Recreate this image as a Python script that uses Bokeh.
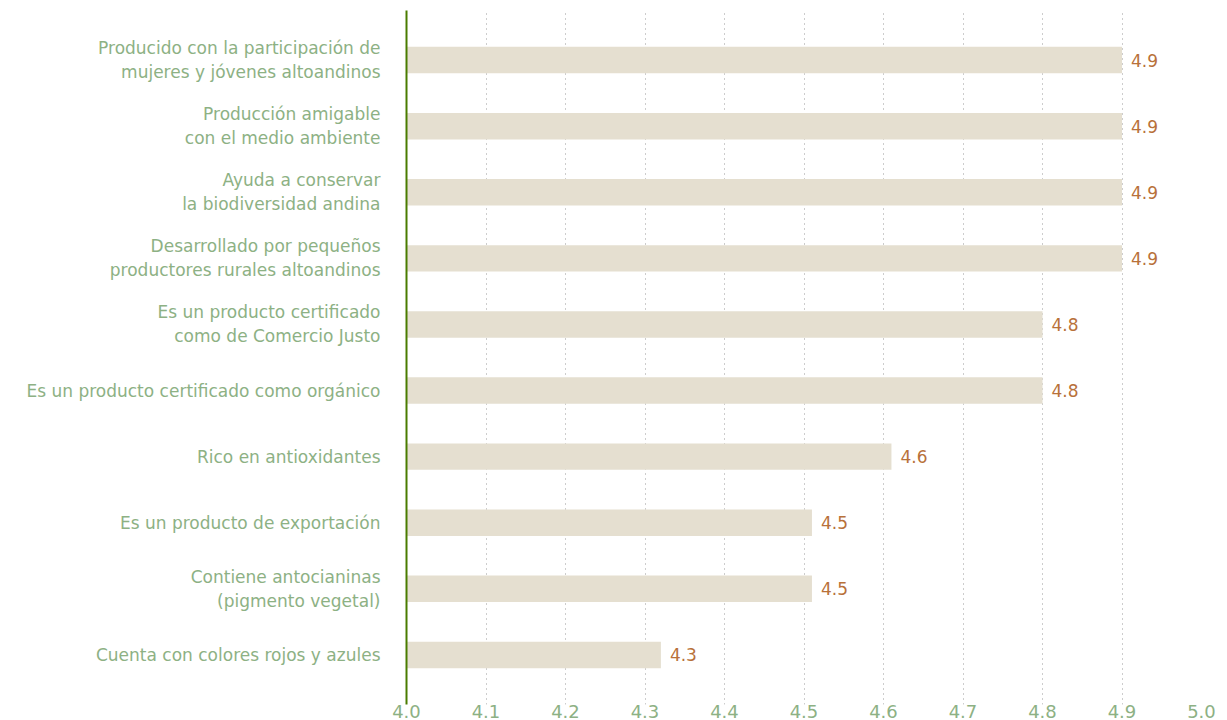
from bokeh.plotting import figure
from bokeh.models import ColumnDataSource, FactorRange, Range1d, FixedTicker, NumeralTickFormatter
from bokeh.core.properties import value
from bokeh.embed import file_html
from bokeh.resources import INLINE

categories = [
    "Producido con la participación de\nmujeres y jóvenes altoandinos",
    "Producción amigable\ncon el medio ambiente",
    "Ayuda a conservar\nla biodiversidad andina",
    "Desarrollado por pequeños\nproductores rurales altoandinos",
    "Es un producto certificado\ncomo de Comercio Justo",
    "Es un producto certificado como orgánico",
    "Rico en antioxidantes",
    "Es un producto de exportación",
    "Contiene antocianinas\n(pigmento vegetal)",
    "Cuenta con colores rojos y azules",
]
scores = [4.90, 4.90, 4.90, 4.90, 4.80, 4.80, 4.61, 4.51, 4.51, 4.32]
x_ticks = [4.0, 4.1, 4.2, 4.3, 4.4, 4.5, 4.6, 4.7, 4.8, 4.9, 5.0]

FONT = "DejaVu Sans"
LABEL_GREEN = "#8db184"
VALUE_ORANGE = "#b8713a"

src = ColumnDataSource(dict(
    cat=categories,
    val=scores,
    label=[f"{v:.1f}" for v in scores],
))

p = figure(
    width=1220, height=720,
    y_range=FactorRange(factors=categories[::-1], range_padding=0.25,
                        range_padding_units="absolute"),
    x_range=Range1d(4.0, 5.0),
    output_backend="svg", toolbar_location=None,
    min_border_left=406, min_border_top=10, min_border_right=19, min_border_bottom=10,
)

p.hbar(y="cat", left=4.0, right="val", height=0.4, color="#e5dfd0", line_color=None, source=src)
p.text(x="val", y="cat", text="label", x_offset=9, text_baseline="middle",
       text_align="left", text_font=value(FONT), text_font_size="17px",
       text_color=VALUE_ORANGE, source=src)

p.outline_line_color = None
p.ygrid.grid_line_color = None
p.xgrid.grid_line_color = "#9a9a9a"
p.xgrid.grid_line_dash = "1 4"
p.xgrid.grid_line_width = 1
p.xgrid.ticker = FixedTicker(ticks=x_ticks)

p.xaxis.ticker = FixedTicker(ticks=x_ticks)
p.xaxis.formatter = NumeralTickFormatter(format="0.0")
p.xaxis.axis_line_color = None
p.xaxis.major_tick_line_color = None
p.xaxis.minor_tick_line_color = None
p.xaxis.major_tick_out = 0
p.xaxis.major_label_standoff = 0
p.xaxis.major_label_text_color = LABEL_GREEN
p.xaxis.major_label_text_font = FONT
p.xaxis.major_label_text_font_size = "18px"

p.yaxis.axis_line_color = "#4a7c00"
p.yaxis.axis_line_width = 2
p.yaxis.major_tick_line_color = None
p.yaxis.minor_tick_line_color = None
p.yaxis.major_tick_out = 0
p.yaxis.major_label_standoff = 26
p.yaxis.major_label_text_color = LABEL_GREEN
p.yaxis.major_label_text_font = FONT
p.yaxis.major_label_text_font_size = "17px"
p.yaxis.major_label_text_align = "right"

open("out.html", "w").write(file_html(p, INLINE))
